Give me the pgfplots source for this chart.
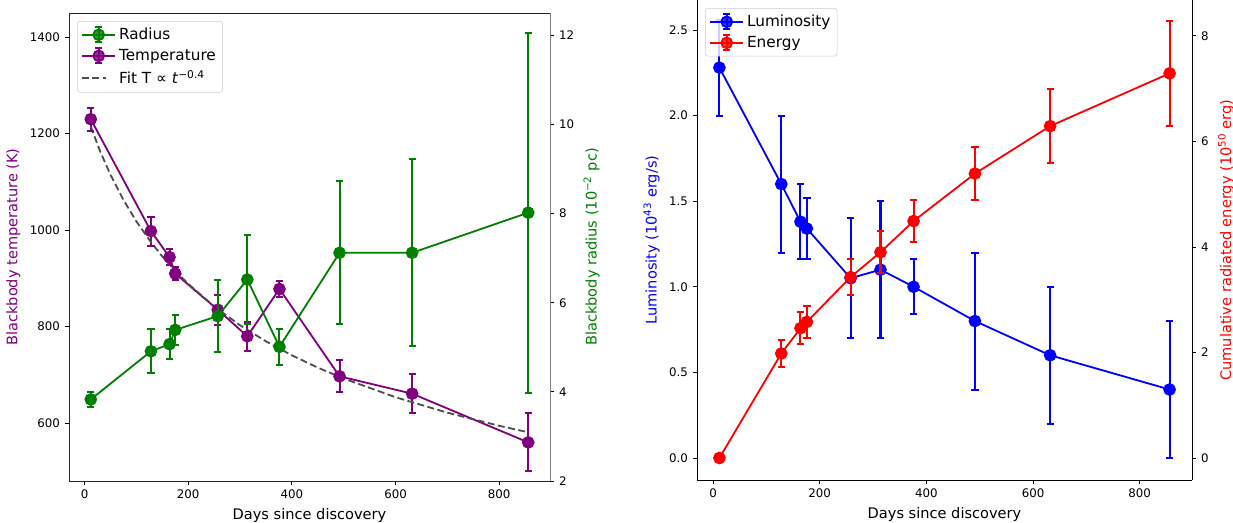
\documentclass[border=0pt]{standalone}
\usepackage{fontspec}
\setmainfont{DejaVu Sans}
\usepackage{pgfplots}
\usepackage{pgfplotstable}
\pgfplotsset{compat=1.18}

\definecolor{mpurple}{RGB}{128,0,128}
\definecolor{mgreen}{RGB}{0,128,0}
\definecolor{mblue}{RGB}{0,0,255}
\definecolor{mred}{RGB}{255,0,0}
\definecolor{fitgray}{RGB}{77,77,77}
\definecolor{legframe}{RGB}{204,204,204}

% values
\pgfplotstableread{
day T R
12 1230 3.83
128 998 4.91
164 944 5.07
175 910 5.39
257 835 5.70
314 780 6.52
376 878 5.01
492 697 7.12
632 661 7.12
856 560 8.02
}\leftdata

\pgfplotstableread{
day L E
12 2.28 0.00
128 1.60 1.98
164 1.38 2.46
176 1.34 2.58
258 1.05 3.43
314 1.10 3.90
376 1.00 4.49
491 0.80 5.39
632 0.60 6.29
856 0.40 7.29
}\rightdata

% error-bar ends (low, high)
\pgfplotstableread{
x y
12 1206
12 1254
12 nan
128 968
128 1028
128 nan
164 927
164 961
164 nan
175 896
175 924
175 nan
257 804
257 866
257 nan
314 750
314 810
314 nan
376 861
376 895
376 nan
492 664
492 730
492 nan
632 621
632 701
632 nan
856 500
856 620
}\Terr

\pgfplotstableread{
x y
12 3.66
12 4.00
12 nan
128 4.42
128 5.40
128 nan
164 4.74
164 5.40
164 nan
175 5.06
175 5.72
175 nan
257 4.89
257 6.51
257 nan
314 5.52
314 7.52
314 nan
376 4.61
376 5.41
376 nan
492 5.52
492 8.72
492 nan
632 5.02
632 9.22
632 nan
856 3.98
856 12.06
}\Rerr

\pgfplotstableread{
x y
12 2.00
12 2.56
12 nan
128 1.20
128 2.00
128 nan
164 1.16
164 1.60
164 nan
176 1.16
176 1.52
176 nan
258 0.70
258 1.40
258 nan
314 0.70
314 1.50
314 nan
376 0.84
376 1.16
376 nan
491 0.40
491 1.20
491 nan
632 0.20
632 1.00
632 nan
856 0.00
856 0.80
}\Lerr

\pgfplotstableread{
x y
128 1.73
128 2.23
128 nan
164 2.16
164 2.76
164 nan
176 2.28
176 2.88
176 nan
258 3.09
258 3.77
258 nan
314 3.50
314 4.30
314 nan
376 4.09
376 4.89
376 nan
491 4.89
491 5.89
491 nan
632 5.59
632 6.99
632 nan
856 6.29
856 8.29
}\Eerr

\pgfplotsset{
  every axis/.append style={
    scale only axis,
    tick align=outside,
    major tick length=3pt,
    tick style={black, line width=0.6pt},
    tick label style={font=\fontsize{8.5}{10}\selectfont},
    label style={font=\fontsize{10.5}{12}\selectfont},
    /pgf/number format/assume math mode=true,
    /pgf/number format/1000 sep={},
    axis line style={line width=0.6pt},
    unbounded coords=jump,
  },
  ser/.style={color=#1, line width=1.3pt, mark=*, mark size=3.9pt,
    mark options={solid, fill=#1, draw=#1}},
  errline/.style={color=#1, line width=1.45pt, mark=none, forget plot},
  errcap/.style={color=#1, only marks, mark=-, mark size=2.6pt,
    mark options={line width=1.45pt, draw=#1}, forget plot},
  errlegend/.style={legend image code/.code={
    \draw[##1] (0pt,0pt) -- (24pt,0pt);
    \draw[##1, line width=1.45pt] (12pt,-5.4pt) -- (12pt,5.4pt) (9.4pt,5.4pt) -- (14.6pt,5.4pt) (9.4pt,-5.4pt) -- (14.6pt,-5.4pt);
    \draw[##1] plot coordinates {(12pt,0pt)};
  }},
  fitstyle/.style={color=fitgray, line width=1.3pt, dash pattern=on 5pt off 2.5pt, mark=none},
  mylegend/.style={legend cell align=left,
    legend style={at={(0,1)}, anchor=north west, xshift=5.76pt, yshift=-5.76pt,
      draw=legframe, fill=white, fill opacity=0.8, text opacity=1, rounded corners=2pt,
      font=\fontsize{11}{12}\selectfont, row sep=1.5pt, inner sep=2.8pt}},
}

\begin{document}
\begin{tikzpicture}
% ---------------- left panel ----------------
\begin{axis}[at={(0,0)}, anchor=south west, width=346.32pt, height=336.96pt,
  xmin=-30, xmax=898, ymin=480, ymax=1450,
  xtick={0,200,400,600,800}, ytick={600,800,1000,1200,1400},
  xtick pos=left, ytick pos=left,
  axis line style={black!85},
  xlabel={Days since discovery},
  ylabel={Blackbody temperature (K)}, ylabel style={color=mpurple}]
\addplot[errline=mpurple] table {\Terr};
\addplot[errcap=mpurple] table {\Terr};
\addplot[ser=mpurple] table[x=day, y=T] {\leftdata};
\addplot[fitstyle] coordinates {
(12,1214.7) (30,1163.6) (50,1114.8) (75,1062.7) (100,1018.1) (128,975.2)
(150,945.6) (175,915.6) (200,888.6) (250,841.9) (300,802.8) (350,769.5)
(400,740.5) (450,715.0) (500,692.4) (600,653.7) (700,621.6) (800,594.4) (856,581.0)};
\end{axis}
\begin{axis}[at={(0,0)}, anchor=south west, width=346.32pt, height=336.96pt,
  xmin=-30, xmax=898, ymin=2, ymax=12.5,
  hide x axis, axis y line*=right, ytick pos=right, yticklabel pos=right,
  ytick={2,4,6,8,10,12},
  y axis line style={-, gray, line width=0.6pt},
  ylabel={Blackbody radius (10\textsuperscript{−2} pc)}, ylabel style={color=mgreen},
  mylegend]
\addplot[errline=mgreen] table {\Rerr};
\addplot[errcap=mgreen] table {\Rerr};
\addplot[ser=mgreen, errlegend] table[x=day, y=R] {\leftdata};
\addlegendimage{ser=mpurple, errlegend}
\addlegendimage{fitstyle, line legend}
\legend{Radius, Temperature, Fit T ∝ \textit{t}\textsuperscript{−0.4}}
\end{axis}
% ---------------- right panel ----------------
\begin{axis}[at={(452.16pt,0.72pt)}, anchor=south west, width=356.4pt, height=345.6pt,
  xmin=-30, xmax=898, ymin=-0.1285, ymax=2.675,
  axis x line*=bottom, axis y line*=left, xtick pos=left, ytick pos=left,
  axis line style={-, black, line width=0.6pt},
  xtick={0,200,400,600,800}, ytick={0,0.5,1,1.5,2,2.5},
  yticklabel style={/pgf/number format/fixed, /pgf/number format/fixed zerofill, /pgf/number format/precision=1},
  xlabel={Days since discovery},
  ylabel={Luminosity (10\textsuperscript{43} erg/s)}, ylabel style={color=mblue}]
\addplot[errline=mblue] table {\Lerr};
\addplot[errcap=mblue] table {\Lerr};
\addplot[ser=mblue] table[x=day, y=L] {\rightdata};
\end{axis}
\begin{axis}[at={(452.16pt,0.72pt)}, anchor=south west, width=356.4pt, height=345.6pt,
  xmin=-30, xmax=898, ymin=-0.417, ymax=8.68,
  hide x axis, axis y line*=right, ytick pos=right, yticklabel pos=right,
  y axis line style={-, black, line width=0.6pt},
  ytick={0,2,4,6,8},
  ylabel={Cumulative radiated energy (10\textsuperscript{50} erg)}, ylabel style={color=mred},
  mylegend]
\addlegendimage{ser=mblue, errlegend}
\addplot[errline=mred] table {\Eerr};
\addplot[errcap=mred] table {\Eerr};
\addplot[ser=mred, errlegend] table[x=day, y=E] {\rightdata};
\legend{Luminosity, Energy}
\end{axis}
\pgfresetboundingbox
\useasboundingbox (-49.68pt,-29.52pt) rectangle (838.08pt,346.32pt);
\end{tikzpicture}
\end{document}
